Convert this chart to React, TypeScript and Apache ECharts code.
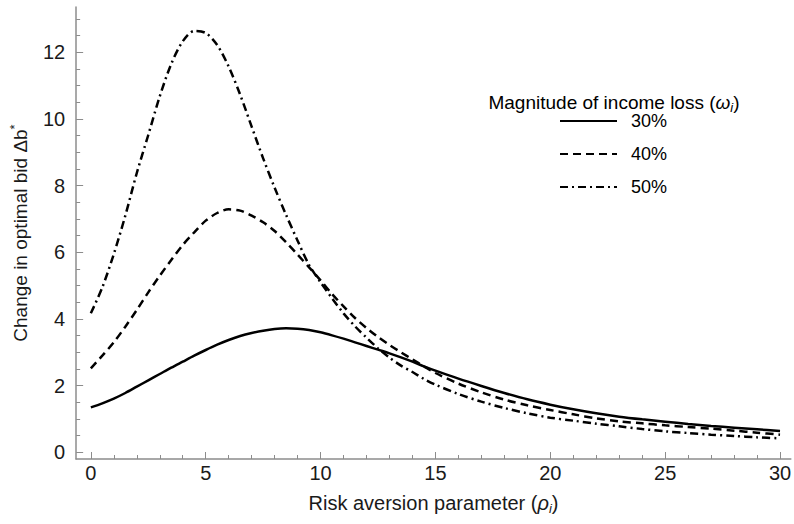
import React, { useEffect, useRef } from 'react';
import * as echarts from 'echarts';

// Risk aversion parameter (x)
const rho = [
  0, 0.5, 1, 1.5, 2, 2.5, 3, 3.5, 4, 4.5, 5, 5.5, 6, 6.5, 7, 7.5, 8, 8.5, 9, 9.5,
  10, 10.5, 11, 11.5, 12, 12.5, 13, 13.5, 14, 14.5, 15, 16, 17, 18, 19, 20, 21, 22,
  23, 24, 25, 26, 27, 28, 29, 30,
];
// Change in optimal bid for each magnitude of income loss
const loss30 = [
  1.35, 1.47, 1.61, 1.78, 1.97, 2.16, 2.35, 2.54, 2.72, 2.9, 3.07, 3.23, 3.37, 3.49, 3.58, 3.65, 3.7, 3.72, 3.71, 3.67,
  3.6, 3.51, 3.41, 3.3, 3.19, 3.08, 2.97, 2.85, 2.72, 2.58, 2.45, 2.21, 1.99, 1.78, 1.59, 1.43, 1.29, 1.17,
  1.07, 0.99, 0.92, 0.85, 0.79, 0.74, 0.69, 0.64,
];
const loss40 = [
  2.52, 2.9, 3.3, 3.77, 4.27, 4.8, 5.3, 5.77, 6.22, 6.6, 6.95, 7.18, 7.29, 7.25, 7.1, 6.9, 6.64, 6.3, 5.93, 5.55,
  5.16, 4.75, 4.38, 4.03, 3.73, 3.46, 3.22, 3.0, 2.79, 2.58, 2.38, 2.06, 1.8, 1.58, 1.41, 1.27, 1.14, 1.02,
  0.93, 0.87, 0.81, 0.76, 0.71, 0.65, 0.59, 0.53,
];
const loss50 = [
  4.17, 4.95, 5.95, 7.1, 8.38, 9.52, 10.68, 11.65, 12.33, 12.64, 12.58, 12.22, 11.57, 10.73, 9.77, 8.82, 7.94, 7.12, 6.35, 5.62,
  5.1, 4.62, 4.17, 3.78, 3.44, 3.12, 2.84, 2.6, 2.41, 2.2, 2.03, 1.75, 1.52, 1.33, 1.17, 1.04, 0.95, 0.86,
  0.78, 0.7, 0.63, 0.58, 0.53, 0.49, 0.45, 0.42,
];
const seriesNames = ['30%', '40%', '50%'];

const xMajorTicks = [0, 5, 10, 15, 20, 25, 30];
const xMinorTicks = [1, 2, 3, 4, 6, 7, 8, 9, 11, 12, 13, 14, 16, 17, 18, 19, 21, 22, 23, 24, 26, 27, 28, 29];
const yMajorTicks = [0, 2, 4, 6, 8, 10, 12];
const yMinorTicks = [0.5, 1, 1.5, 2.5, 3, 3.5, 4.5, 5, 5.5, 6.5, 7, 7.5, 8.5, 9, 9.5, 10.5, 11, 11.5, 12.5, 13];

const FONT = '"Liberation Sans", Arial, sans-serif';
const AXIS_COLOR = '#8c8c8c';
const TEXT_COLOR = '#1a1a1a';
const FS_TICK = 20;
const FS_XTITLE = 20;
const FS_TITLE = 19;
const FS_LEGEND = 18;

const X_MIN = -0.64;
const X_MAX = 30.47;
const Y_MIN = -0.2;
const Y_MAX = 13.36;

export default function App() {
  const ref = useRef<HTMLDivElement>(null);

  useEffect(() => {
    if (!ref.current) return;
    const chart = echarts.init(ref.current, null, { renderer: 'svg' });

    const tickLine = { color: AXIS_COLOR, width: 1 };
    const lineSeries = (name: string, ys: number[], type: any) => ({
      type: 'line',
      name,
      data: rho.map((x, i) => [x, ys[i]]),
      xAxisIndex: 0,
      yAxisIndex: 0,
      symbol: 'none',
      showSymbol: false,
      smooth: 0.3,
      lineStyle: { color: '#000', width: 2.5, type },
      itemStyle: { color: '#000' },
      z: 3,
    });

    chart.setOption({
      animation: false,
      backgroundColor: '#fff',
      grid: { left: 66, right: 1, top: 7, bottom: 65, containLabel: false },
      xAxis: [
        {
          type: 'value',
          min: X_MIN,
          max: X_MAX,
          position: 'bottom',
          axisLine: { show: true, onZero: false, lineStyle: { color: AXIS_COLOR, width: 1.5 } },
          axisTick: { show: true, inside: true, length: 7, customValues: xMajorTicks, lineStyle: tickLine },
          axisLabel: {
            show: true,
            customValues: xMajorTicks,
            margin: 4,
            fontSize: FS_TICK,
            fontFamily: FONT,
            color: TEXT_COLOR,
          },
          splitLine: { show: false },
          name: 'Risk aversion parameter ({it|ρ}{sub|i})',
          nameLocation: 'middle',
          nameGap: 32,
          nameTextStyle: {
            fontSize: FS_XTITLE,
            fontFamily: FONT,
            color: TEXT_COLOR,
            lineHeight: 24,
            rich: {
              it: { fontSize: FS_XTITLE, fontFamily: FONT, fontStyle: 'italic', color: TEXT_COLOR, lineHeight: 24 },
              sub: { fontSize: 13, fontFamily: FONT, fontStyle: 'italic', color: TEXT_COLOR, lineHeight: 14, verticalAlign: 'bottom' },
            },
          },
        },
        {
          type: 'value',
          min: X_MIN,
          max: X_MAX,
          position: 'bottom',
          axisLine: { show: false, onZero: false },
          axisTick: { show: true, inside: true, length: 4, customValues: xMinorTicks, lineStyle: tickLine },
          axisLabel: { show: false },
          splitLine: { show: false },
        },
      ],
      yAxis: [
        {
          type: 'value',
          min: Y_MIN,
          max: Y_MAX,
          position: 'left',
          axisLine: { show: true, onZero: false, lineStyle: { color: AXIS_COLOR, width: 1.5 } },
          axisTick: { show: true, inside: true, length: 7, customValues: yMajorTicks, lineStyle: tickLine },
          axisLabel: {
            show: true,
            customValues: yMajorTicks,
            margin: 11,
            fontSize: FS_TICK,
            fontFamily: FONT,
            color: TEXT_COLOR,
          },
          splitLine: { show: false },
          name: 'Change in optimal bid Δb{sup|*}',
          nameLocation: 'middle',
          nameRotate: 90,
          nameGap: 37,
          nameTextStyle: {
            fontSize: FS_TITLE,
            fontFamily: FONT,
            color: TEXT_COLOR,
            lineHeight: 24,
            rich: {
              sup: { fontSize: 13, fontFamily: FONT, color: TEXT_COLOR, lineHeight: 14, verticalAlign: 'top' },
            },
          },
        },
        {
          type: 'value',
          min: Y_MIN,
          max: Y_MAX,
          position: 'left',
          axisLine: { show: false, onZero: false },
          axisTick: { show: true, inside: true, length: 4, customValues: yMinorTicks, lineStyle: tickLine },
          axisLabel: { show: false },
          splitLine: { show: false },
        },
      ],
      legend: {
        show: true,
        orient: 'vertical',
        left: 559,
        top: 111,
        padding: 0,
        itemWidth: 57,
        itemHeight: 14,
        itemGap: 13,
        selectedMode: false,
        data: seriesNames,
        itemStyle: { opacity: 0 },
        textStyle: { fontSize: FS_LEGEND, fontFamily: FONT, color: '#000', padding: [0, 0, 0, 9], lineHeight: 20 },
      },
      graphic: [
        {
          type: 'text',
          x: 614,
          y: 102,
          style: {
            text: 'Magnitude of income loss ({it|ω}{sub|i})',
            fontSize: FS_TITLE,
            fontFamily: FONT,
            fill: '#000',
            align: 'center',
            verticalAlign: 'middle',
            lineHeight: 24,
            rich: {
              it: { fontSize: FS_TITLE, fontFamily: FONT, fontStyle: 'italic', fill: '#000', lineHeight: 24 },
              sub: { fontSize: 13, fontFamily: FONT, fontStyle: 'italic', fill: '#000', lineHeight: 14, verticalAlign: 'bottom' },
            },
          },
        },
      ],
      series: [
        lineSeries(seriesNames[0], loss30, 'solid'),
        lineSeries(seriesNames[1], loss40, [8, 5]),
        lineSeries(seriesNames[2], loss50, [8, 4, 2, 4]),
      ],
    });

    return () => chart.dispose();
  }, []);

  return (
    <div
      ref={ref}
      style={{ position: 'fixed', left: 0, top: 0, width: 794, height: 524, background: '#fff' }}
    />
  );
}
